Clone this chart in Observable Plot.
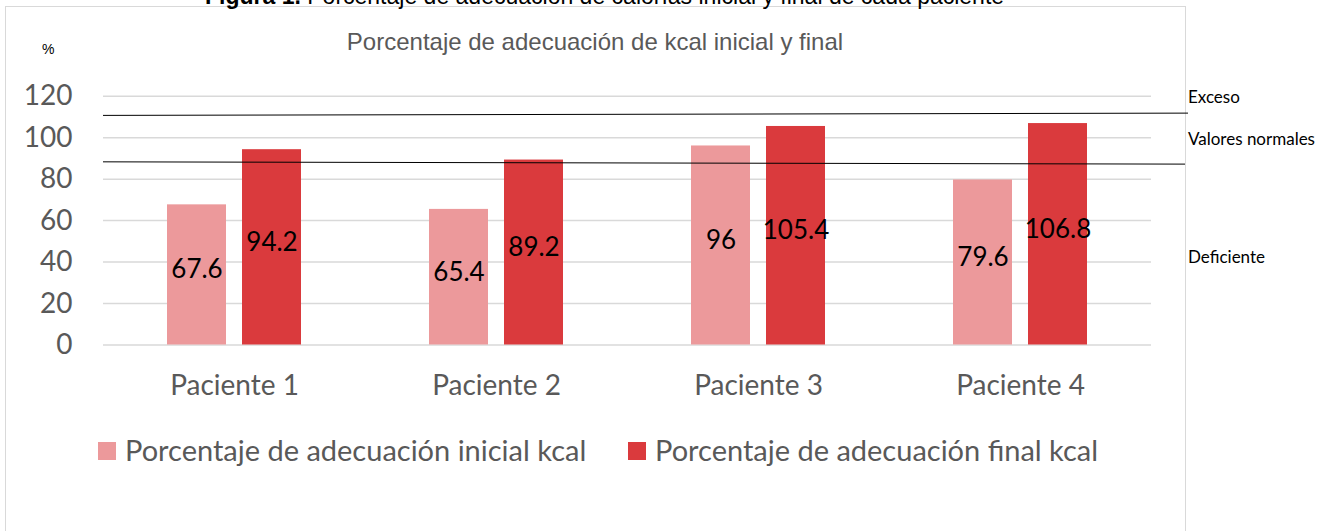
<!DOCTYPE html>
<html><head><meta charset="utf-8">
<script src="https://cdn.jsdelivr.net/npm/d3@7"></script>
<script src="https://cdn.jsdelivr.net/npm/@observablehq/plot@0.6"></script>
<style>
body{margin:0;background:#fff;}
#wrap{position:relative;width:1334px;height:531px;overflow:hidden;background:#fff;font-family:Lato,sans-serif;}
#fig{position:absolute;left:205px;top:-15px;font-family:"Liberation Sans",Arial,sans-serif;font-size:23px;line-height:1;color:#000;white-space:nowrap;}
#frame{position:absolute;left:5px;top:6px;width:1179px;height:600px;border:1.5px solid #d9d9d9;}
#pct{position:absolute;left:42px;top:42px;font-family:"Liberation Sans",Arial,sans-serif;font-size:14px;line-height:1;color:#000;}
#ctitle{position:absolute;left:0;width:1190px;text-align:center;top:30px;font-family:"Liberation Sans",Arial,sans-serif;font-size:24px;line-height:1;color:#595959;white-space:nowrap;}
#chart{position:absolute;left:0;top:0;}
.lg-sw{position:absolute;width:18px;height:18px;top:442px;}
.lg-tx{position:absolute;top:435px;font-size:29px;line-height:1;color:#595959;white-space:nowrap;}
</style></head><body>
<div id="wrap">
  <div id="frame"></div>
  <div id="fig"><b>Figura 1.</b> Porcentaje de adecuación de calorías inicial y final de cada paciente</div>
  <div id="pct">%</div>
  <div id="ctitle">Porcentaje de adecuación de kcal inicial y final</div>
  <div id="chart"></div>
  <div id="legend"></div>
</div>
<script>
// ---- data ----
const patients = ["Paciente 1", "Paciente 2", "Paciente 3", "Paciente 4"];
const seriesNames = ["Porcentaje de adecuación inicial kcal", "Porcentaje de adecuación final kcal"];
const initialValues = [67.6, 65.4, 96, 79.6];
const finalValues = [94.2, 89.2, 105.4, 106.8];
const yTicks = [0, 20, 40, 60, 80, 100, 120];
const seriesColors = ["#EC999B", "#DA3A3D"];
// hand-drawn limit lines (value at left end, value at right end)
const excesoLimit = [110.5, 111.6];
const normalLimit = [88.1, 87.0];
const zoneLabels = ["Exceso", "Valores normales", "Deficiente"];
const zoneLabelValues = [119.4, 99.1, 42.2];

const data = patients.flatMap((p, i) => [
  {patient: p, series: seriesNames[0], value: initialValues[i]},
  {patient: p, series: seriesNames[1], value: finalValues[i]}
]);

const plot = Plot.plot({
  width: 1334,
  height: 420,
  marginLeft: 102,
  marginRight: 183,
  marginTop: 95.7,
  marginBottom: 75.5,
  style: {fontFamily: "Lato, sans-serif", fontSize: "28px", color: "#595959", background: "transparent", overflow: "visible"},
  facet: {data, x: "patient"},
  fx: {domain: patients, padding: 0, label: null, tickSize: 0, tickPadding: 30, axis: "bottom"},
  x: {domain: seriesNames, paddingInner: 0.213, paddingOuter: 0.853, axis: null},
  y: {domain: [0, 120], ticks: yTicks, tickSize: 0, tickPadding: 31, label: null},
  color: {domain: seriesNames, range: seriesColors},
  marks: [
    Plot.ruleY(yTicks, {stroke: "#d9d9d9", strokeWidth: 1.5}),
    Plot.barY(data, {x: "series", y: "value", fill: "series"}),
    Plot.text(data, {x: "series", y: d => d.value / 2, text: d => String(d.value), fill: "#000", fontSize: 26, dy: -5})
  ]
});
document.getElementById("chart").appendChild(plot);

const svg = d3.select(plot);
svg.selectAll('[aria-label="fx-axis"] text').attr("font-size", 31);
const y = plot.scale("y");
const lineG = svg.append("g");
[[excesoLimit, 1188], [normalLimit, 1185]].forEach(([lim, xEnd]) => {
  lineG.append("line")
    .attr("x1", 103).attr("x2", xEnd)
    .attr("y1", y.apply(lim[0])).attr("y2", y.apply(lim[1]))
    .attr("stroke", "#000").attr("stroke-width", 1);
});
const labG = svg.append("g").attr("font-family", "Lato, sans-serif").attr("font-size", 17)
  .attr("fill", "#000").attr("text-anchor", "start");
zoneLabels.forEach((t, i) => {
  labG.append("text").attr("x", 1188).attr("y", y.apply(zoneLabelValues[i])).attr("dy", "0.35em").text(t);
});

// legend
const lg = document.getElementById("legend");
const swX = [98, 628], txX = [125, 655];
seriesNames.forEach((s, i) => {
  const sw = document.createElement("div");
  sw.className = "lg-sw"; sw.style.left = swX[i] + "px"; sw.style.background = seriesColors[i];
  const tx = document.createElement("div");
  tx.className = "lg-tx"; tx.style.left = txX[i] + "px"; tx.textContent = s;
  lg.appendChild(sw); lg.appendChild(tx);
});
</script>
</body></html>
